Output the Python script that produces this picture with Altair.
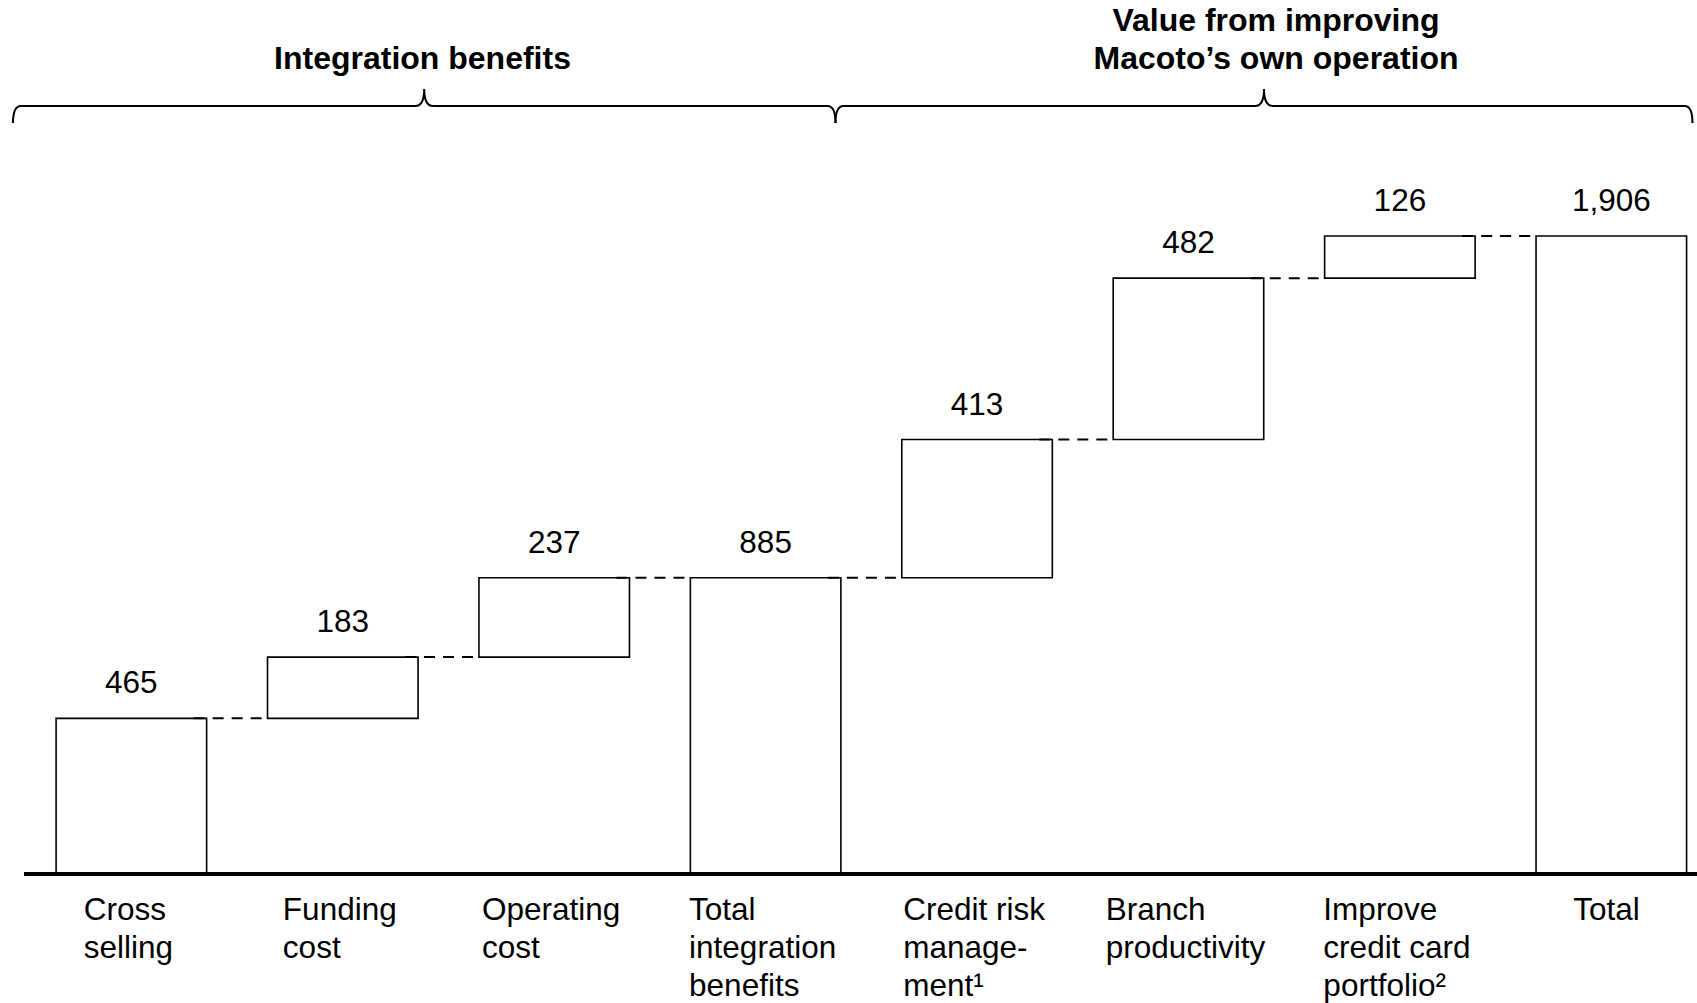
import altair as alt
import pandas as pd

# ---------------- data ----------------
categories = [
    "Cross\nselling",
    "Funding\ncost",
    "Operating\ncost",
    "Total\nintegration\nbenefits",
    "Credit risk\nmanage-\nment¹",
    "Branch\nproductivity",
    "Improve\ncredit card\nportfolio²",
    "Total",
]
values = [465, 183, 237, 885, 413, 482, 126, 1906]
is_total = [False, False, False, True, False, False, False, True]

group_titles = ["Integration benefits", "Value from improving\nMacoto\u2019s own operation"]

# ---------------- layout constants ----------------
W, H = 1697, 1003
STEP_PX = 211.42          # pixels per category step
HALF = 0.356              # half bar width in category units
X_DOMAIN = [-0.6213, 7.4053]
Y_DOMAIN = [-385.4, 2611.0]
FONT = "Liberation Sans"
FS = 31.5
LH = 38

# Arial / Liberation Sans advance widths (per 1000 em)
AW = {" ": 278, "-": 333, "C": 722, "r": 333, "o": 556, "s": 500, "e": 556, "l": 222,
      "i": 222, "n": 556, "g": 556, "F": 611, "u": 556, "d": 556, "c": 500, "t": 278,
      "O": 778, "p": 556, "a": 556, "T": 611, "b": 556, "f": 278, "k": 500, "m": 833,
      "B": 667, "h": 556, "v": 500, "y": 500, "I": 278, "¹": 333, "²": 333}


def text_w(s, size):
    return sum(AW.get(ch, 556) for ch in s) / 1000.0 * size


# ---------------- waterfall table ----------------
rows = []
running = 0
for i, (c, v, t) in enumerate(zip(categories, values, is_total)):
    if t:
        start, end = 0, v
    else:
        start, end = running, running + v
    running = end
    block = max(text_w(line, FS) for line in c.split("\n"))
    rows.append({
        "idx": i, "cat": c, "value": v, "start": start, "end": end,
        "x0": i - HALF, "x1": i + HALF,
        "lab_x": i - (block / 2 + 3) / STEP_PX,
    })
df = pd.DataFrame(rows)

conn = []
for i in range(len(rows) - 1):
    conn.append({"xa": i + HALF - 13 / STEP_PX, "xb": i + 1 - HALF, "level": rows[i]["end"]})
conn_df = pd.DataFrame(conn)

# braces (decoration)
brace_span = [(-0.560, 3.3305), (3.3305, 7.384)]
title_x = [1.377, 5.414]
brace_rows = []
for (a, b), tx, ttl in zip(brace_span, title_x, group_titles):
    h = (b - a) * STEP_PX / 2.0
    up, down, cr, cc = 17.0 / h, 17.0 / h, 8.0 / h, 9.0 / h
    path = (f"M -1 {down:.5f} Q -1 0 {-1 + cr:.5f} 0 L {-cc:.5f} 0 Q 0 0 0 {-up:.5f} "
            f"Q 0 0 {cc:.5f} 0 L {1 - cr:.5f} 0 Q 1 0 1 {down:.5f}")
    nlines = len(ttl.split("\n"))
    brace_rows.append({"bx": (a + b) / 2, "path": path, "size": (2 * h) ** 2,
                       "tx": tx, "title": ttl, "ty": 69 - LH * (nlines - 1)})
brace_df = pd.DataFrame(brace_rows)

xs = alt.Scale(domain=X_DOMAIN, nice=False, zero=False)
ys = alt.Scale(domain=Y_DOMAIN, nice=False, zero=False)

base = alt.Chart(df)

bars = base.mark_bar(fill="white", stroke="black", strokeWidth=1.6).encode(
    x=alt.X("x0:Q", scale=xs, axis=None),
    x2="x1:Q",
    y=alt.Y("start:Q", scale=ys, axis=None),
    y2="end:Q",
)

connectors = alt.Chart(conn_df).mark_rule(
    stroke="black", strokeWidth=2, strokeDash=[11, 8]
).encode(
    x=alt.X("xa:Q", scale=xs, axis=None),
    x2="xb:Q",
    y=alt.Y("level:Q", scale=ys, axis=None),
)

value_labels = base.mark_text(
    font=FONT, fontSize=FS, color="black", align="center", baseline="alphabetic", dy=-25
).encode(
    x=alt.X("idx:Q", scale=xs, axis=None),
    y=alt.Y("end:Q", scale=ys, axis=None),
    text=alt.Text("value:Q", format=","),
)

cat_labels = base.mark_text(
    font=FONT, fontSize=FS, color="black", align="left", baseline="alphabetic",
    lineBreak="\n", lineHeight=LH
).encode(
    x=alt.X("lab_x:Q", scale=xs, axis=None),
    y=alt.value(920),
    text="cat:N",
)

baseline = alt.Chart(pd.DataFrame({"zero": [0]})).mark_rule(
    stroke="black", strokeWidth=4
).encode(
    y=alt.Y("zero:Q", scale=ys, axis=None),
    x=alt.value(24),
    x2=alt.value(W),
)

braces = alt.Chart(brace_df).mark_point(
    filled=False, color="black", strokeWidth=2, opacity=1
).encode(
    x=alt.X("bx:Q", scale=xs, axis=None),
    y=alt.value(106),
    shape=alt.Shape("path:N", scale=None, legend=None),
    size=alt.Size("size:Q", scale=None, legend=None),
)

titles = alt.Chart(brace_df).mark_text(
    font=FONT, fontSize=32, fontWeight="bold", color="black", align="center",
    baseline="alphabetic", lineBreak="\n", lineHeight=LH
).encode(
    x=alt.X("tx:Q", scale=xs, axis=None),
    y=alt.Y("ty:Q", scale=None, axis=None),
    text="title:N",
)

chart = alt.layer(bars, connectors, baseline, value_labels, cat_labels, braces, titles).properties(
    width=W, height=H, autosize=alt.AutoSizeParams(type="none"), padding=0, background="white"
).configure_view(strokeWidth=0)

chart.save("out.html", embed_options={"renderer": "svg", "actions": False})
